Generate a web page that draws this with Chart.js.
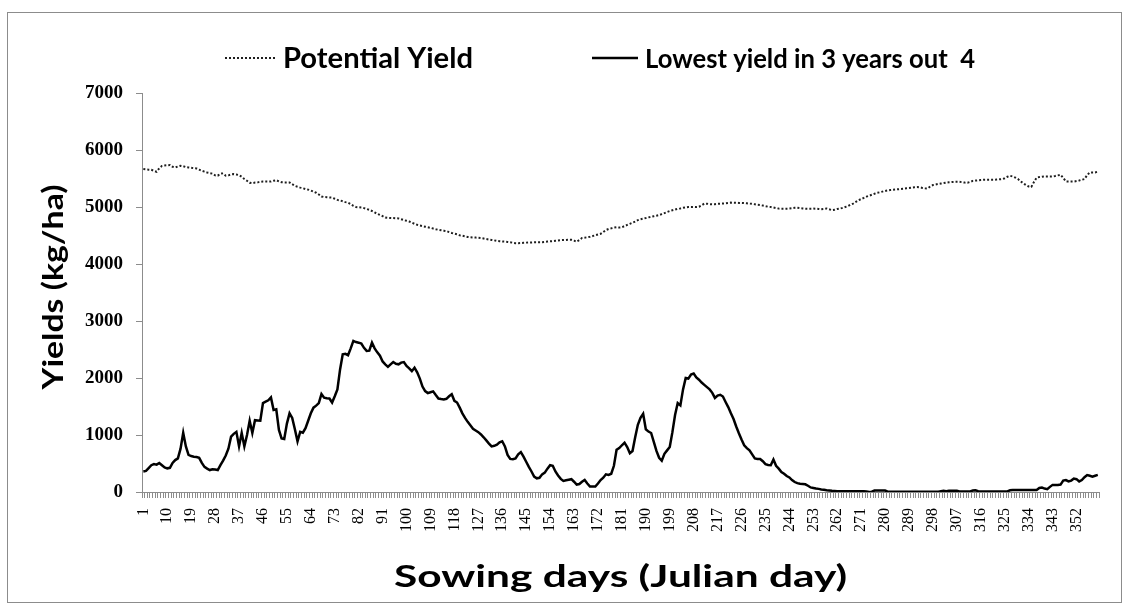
<!DOCTYPE html>
<html><head><meta charset="utf-8">
<script src="https://cdn.jsdelivr.net/npm/chart.js@4"></script>
<style>html,body{margin:0;padding:0;background:#fff;}#wrap{width:1127px;height:608px;position:relative;}</style>
</head><body><div id="wrap"><canvas id="c" width="1127" height="608"></canvas></div>
<script>
// ---- categories (Julian sowing day) ----
const days = [1,2,3,4,5,6,7,8,9,10,11,12,13,14,15,16,17,18,19,20,21,22,23,24,25,26,27,28,29,30,31,32,33,34,35,36,37,38,39,40,41,42,43,44,45,46,47,48,49,50,51,52,53,54,55,56,57,58,59,60,61,62,63,64,65,66,67,68,69,70,71,72,73,74,75,76,77,78,79,80,81,82,83,84,85,86,87,88,89,90,91,92,93,94,95,96,97,98,99,100,101,102,103,104,105,106,107,108,109,110,111,112,113,114,115,116,117,118,119,120,121,122,123,124,125,126,127,128,129,130,131,132,133,134,135,136,137,138,139,140,141,142,143,144,145,146,147,148,149,150,151,152,153,154,155,156,157,158,159,160,161,162,163,164,165,166,167,168,169,170,171,172,173,174,175,176,177,178,179,180,181,182,183,184,185,186,187,188,189,190,191,192,193,194,195,196,197,198,199,200,201,202,203,204,205,206,207,208,209,210,211,212,213,214,215,216,217,218,219,220,221,222,223,224,225,226,227,228,229,230,231,232,233,234,235,236,237,238,239,240,241,242,243,244,245,246,247,248,249,250,251,252,253,254,255,256,257,258,259,260,261,262,263,264,265,266,267,268,269,270,271,272,273,274,275,276,277,278,279,280,281,282,283,284,285,286,287,288,289,290,291,292,293,294,295,296,297,298,299,300,301,302,303,304,305,306,307,308,309,310,311,312,313,314,315,316,317,318,319,320,321,322,323,324,325,326,327,328,329,330,331,332,333,334,335,336,337,338,339,340,341,342,343,344,345,346,347,348,349,350,351,352,353,354,355,356,357,358,359,360];

// ---- labelled x ticks ----
const tickLabels = [1,10,19,28,37,46,55,64,73,82,91,100,109,118,127,136,145,154,163,172,181,190,199,208,217,226,235,244,253,262,271,280,289,298,307,316,325,334,343,352];

// ---- series ----
const seriesNames = ['Potential Yield', 'Lowest yield in 3 years out  4'];

const potentialYield = [
5665,5660,5655,5653,5635,5618,5680,5720,5728,5732,
5735,5705,5694,5710,5724,5715,5700,5694,5688,5680,
5676,5655,5635,5620,5605,5595,5585,5555,5550,5585,
5590,5550,5555,5570,5577,5570,5560,5530,5490,5460,
5425,5418,5428,5432,5440,5447,5447,5445,5447,5460,
5471,5450,5435,5430,5430,5430,5400,5370,5355,5340,
5330,5315,5305,5290,5270,5250,5220,5185,5175,5172,
5168,5165,5145,5125,5115,5100,5085,5075,5050,5020,
5000,4995,4990,4980,4965,4950,4930,4905,4880,4860,
4840,4815,4810,4808,4805,4802,4800,4785,4770,4758,
4745,4725,4705,4688,4675,4665,4655,4645,4635,4622,
4610,4600,4592,4585,4578,4560,4545,4532,4520,4502,
4495,4485,4475,4470,4466,4463,4460,4455,4447,4438,
4430,4422,4415,4405,4400,4395,4392,4388,4382,4372,
4366,4365,4368,4372,4375,4377,4378,4380,4381,4382,
4383,4388,4393,4398,4402,4408,4413,4418,4420,4422,
4424,4424,4410,4390,4420,4455,4462,4470,4477,4490,
4505,4518,4530,4560,4595,4615,4625,4638,4645,4640,
4645,4665,4685,4705,4725,4745,4770,4785,4796,4806,
4818,4828,4838,4848,4858,4875,4893,4912,4930,4942,
4955,4968,4975,4985,4992,5000,5000,5002,5000,5005,
5030,5060,5058,5050,5047,5050,5055,5058,5060,5065,
5072,5077,5076,5074,5072,5071,5068,5065,5060,5055,
5048,5040,5035,5025,5015,5005,5000,4990,4980,4972,
4970,4970,4971,4972,4978,4985,4988,4982,4975,4971,
4970,4971,4972,4970,4965,4960,4965,4975,4960,4945,
4950,4965,4972,4985,5000,5015,5040,5060,5090,5118,
5140,5160,5182,5198,5215,5232,5248,5258,5270,5282,
5292,5298,5303,5308,5312,5317,5322,5328,5333,5340,
5347,5352,5345,5335,5328,5326,5360,5385,5395,5405,
5412,5420,5428,5435,5440,5441,5441,5441,5435,5428,
5425,5440,5458,5463,5468,5473,5477,5477,5477,5477,
5478,5482,5485,5488,5505,5530,5547,5535,5515,5490,
5450,5415,5385,5360,5353,5440,5515,5525,5532,5535,
5535,5535,5537,5545,5555,5565,5510,5450,5447,5447,
5447,5455,5465,5478,5490,5560,5606,5606,5606,5620];

const lowestYield = [
360,370,420,470,490,480,510,470,430,415,
425,510,560,590,760,1040,800,650,630,620,
615,600,510,440,410,385,400,395,385,470,
550,640,760,970,1020,1055,800,1035,800,1000,
1250,1035,1260,1255,1250,1560,1585,1610,1660,1440,
1450,1090,940,930,1200,1380,1300,1100,890,1055,
1040,1120,1250,1380,1480,1515,1560,1720,1655,1645,
1640,1570,1680,1800,2150,2415,2425,2400,2520,2650,
2630,2620,2605,2530,2475,2480,2620,2520,2450,2390,
2290,2240,2195,2240,2280,2250,2240,2270,2280,2210,
2170,2120,2180,2100,1990,1850,1770,1735,1750,1765,
1700,1640,1630,1625,1635,1680,1715,1600,1570,1480,
1380,1300,1230,1170,1110,1080,1050,1010,960,905,
850,800,810,830,870,890,800,650,580,575,
590,660,700,620,530,440,360,270,240,250,
310,340,410,470,460,360,290,230,195,205,
215,225,180,130,140,180,210,150,95,95,
95,150,210,250,310,300,320,460,740,770,
820,865,790,680,720,960,1180,1300,1370,1100,
1060,1035,880,720,600,550,670,730,790,1050,
1350,1560,1520,1800,2000,1990,2060,2080,2010,1970,
1920,1880,1840,1800,1740,1650,1690,1705,1675,1580,
1490,1380,1280,1150,1030,920,820,770,730,660,
590,580,580,540,490,475,470,570,460,410,
350,320,280,255,210,175,155,145,140,135,
110,80,70,60,55,45,40,32,28,22,
18,15,15,12,12,15,15,15,15,15,
15,15,10,0,5,25,25,25,25,25,
5,5,5,5,5,5,5,5,5,5,
5,5,5,5,5,5,5,5,5,5,
15,20,15,20,20,20,20,10,10,10,
10,10,25,30,15,10,10,10,10,10,
10,10,10,10,10,10,30,35,35,35,
35,35,35,35,35,35,35,70,77,60,
50,90,125,125,125,130,200,210,185,200,
237,225,185,210,260,296,285,270,285,300];

// ---- axis ----
const yMin = 0, yMax = 7000, yStep = 1000;
const xTitle = 'Sowing days (Julian day)';
const yTitle = 'Yields (kg/ha)';

const AXIS_GREY = '#8c8c8c';
const TITLE_FONT = 'Lato, "Open Sans", sans-serif';

// draw text at a given font size, stretched horizontally to a target width
function drawFitted(ctx, text, x, y, size, targetW, align){
  ctx.font = 'bold ' + size + 'px ' + TITLE_FONT;
  const w = ctx.measureText(text).width;
  const sx = targetW / w;
  ctx.save();
  ctx.translate(x, y);
  ctx.scale(sx, 1);
  ctx.textAlign = align; ctx.textBaseline = 'middle';
  ctx.fillText(text, 0, 0);
  ctx.restore();
}

const decor = {
  id: 'decor',
  afterDraw(chart){
    const c = chart.ctx;
    const ca = chart.chartArea;
    c.save();
    // outer chart border
    c.strokeStyle = AXIS_GREY; c.lineWidth = 1; c.setLineDash([]);
    c.strokeRect(7.5, 12.5, 1114, 590);

    // legend
    const ds = chart.data.datasets;
    const legendY = 58;
    const items = [{x0:225, x1:275, tx:283, w:190, size:28}, {x0:592, x1:638, tx:645, w:330, size:27}];
    c.fillStyle = '#000';
    items.forEach((it, i) => {
      c.beginPath();
      c.setLineDash(ds[i].borderDash || []);
      c.lineWidth = ds[i].borderWidth;
      c.strokeStyle = ds[i].borderColor;
      c.moveTo(it.x0, legendY); c.lineTo(it.x1, legendY); c.stroke();
      c.setLineDash([]);
      drawFitted(c, ds[i].label, it.tx, legendY + 1, it.size, it.w, 'left');
    });

    // axis titles
    drawFitted(c, xTitle, (ca.left + ca.right) / 2, 577, 31, 453, 'center');

    c.save();
    c.translate(54, 287); c.rotate(-Math.PI / 2);
    drawFitted(c, yTitle, 0, 0, 29, 205, 'center');
    c.restore();
    c.restore();
  }
};

new Chart(document.getElementById('c').getContext('2d'), {
  type: 'line',
  data: {
    labels: days,
    datasets: [
      { label: seriesNames[0], data: potentialYield, borderColor: '#1e1e1e', borderWidth: 2,
        borderDash: [2, 2], pointRadius: 0, tension: 0, fill: false },
      { label: seriesNames[1], data: lowestYield, borderColor: '#000000', borderWidth: 2.5,
        pointRadius: 0, tension: 0, fill: false }
    ]
  },
  options: {
    responsive: false, animation: false, devicePixelRatio: 1,
    layout: { padding: { top: 93, right: 9, left: 0, bottom: 0 } },
    plugins: { legend: { display: false }, tooltip: { enabled: false }, title: { display: false } },
    scales: {
      x: {
        type: 'category', offset: true,
        grid: { display: true, drawOnChartArea: false, drawTicks: true, tickLength: 6, color: AXIS_GREY, offset: true },
        border: { display: true, color: AXIS_GREY, width: 1 },
        ticks: {
          autoSkip: false, minRotation: 90, maxRotation: 90, padding: 10, color: '#000',
          font: { family: '"Liberation Serif", serif', size: 16 },
          callback: function(v, i){ const d = days[i]; return tickLabels.includes(d) ? String(d) : ''; }
        },
        afterFit: function(s){ s.height = 116; }
      },
      y: {
        min: yMin, max: yMax,
        ticks: { stepSize: yStep, padding: 13, color: '#000',
          font: { family: '"Liberation Serif", serif', size: 19, weight: 'bold' },
          callback: function(v){ return String(v); } },
        grid: { display: true, drawOnChartArea: false, drawTicks: true, tickLength: 6, color: AXIS_GREY },
        border: { display: true, color: AXIS_GREY, width: 1 },
        afterFit: function(s){ s.width = 142; }
      }
    }
  },
  plugins: [decor]
});
</script>
</body></html>
